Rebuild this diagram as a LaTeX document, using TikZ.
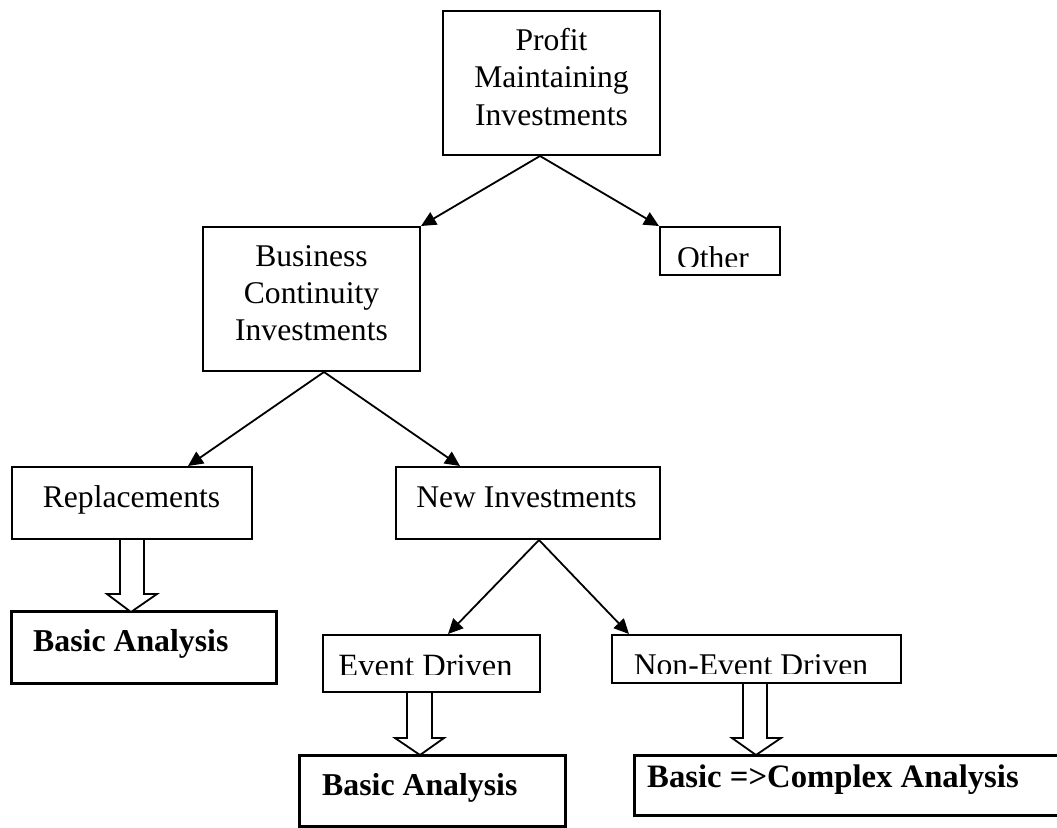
\documentclass[tikz,border=0pt]{standalone}
\usepackage{fontspec}
\setmainfont{Liberation Serif}
\usetikzlibrary{arrows.meta,calc}
\begin{document}
\begin{tikzpicture}[x=1pt,y=-1pt,
  box/.style={draw,line width=2pt,rectangle,inner sep=0pt},
  bbox/.style={draw,line width=3pt,rectangle,inner sep=0pt},
  txt/.style={anchor=base,inner sep=0pt,font=\fontsize{31.6}{37.5}\selectfont},
  btxt/.style={anchor=base west,inner sep=0pt,font=\fontsize{31.8}{37.5}\selectfont\bfseries},
  conn/.style={line width=1.8pt,-{Triangle[length=15pt,width=14pt]}},
  barrow/.style={draw,line width=1.8pt,fill=white,line join=miter}]
\useasboundingbox (0,0) rectangle (1057,827);

% boxes
\node[box,minimum width=217pt,minimum height=144pt] (profit) at (551.5,83) {};
\node[box,minimum width=217pt,minimum height=144pt] (bus) at (311.5,299) {};
\node[box,minimum width=120pt,minimum height=48pt] (other) at (720,251) {};
\node[box,minimum width=240pt,minimum height=72pt] (rep) at (132,503) {};
\node[box,minimum width=264pt,minimum height=72pt] (ni) at (528,503) {};
\node[bbox,minimum width=265pt,minimum height=72pt] (ba1) at (143.5,647) {};
\node[box,minimum width=217pt,minimum height=57pt] (ev) at (431.5,663.5) {};
\node[box,minimum width=289pt,minimum height=48pt] (ne) at (756.5,659) {};
\node[bbox,minimum width=266pt,minimum height=71pt] (ba2) at (432,790.5) {};
\node[bbox,minimum width=428pt,minimum height=60pt] (cx) at (848,785) {};

% texts
\node[txt] (tp1) at (551.5,50) {Profit};
\node[txt] (tp2) at (551.5,87) {Maintaining};
\node[txt] (tp3) at (551.5,125) {Investments};
\node[txt] (tb1) at (311.5,266) {Business};
\node[txt] (tb2) at (311.5,303) {Continuity};
\node[txt] (tb3) at (311.5,340) {Investments};
\begin{scope}
  \clip (661,228) rectangle (779,266);
  \node[txt] (tother) at (713,268) {Other};
\end{scope}
\node[txt] (trep) at (131.5,507) {Replacements};
\node[txt] (tni) at (526.5,507) {New Investments};
\begin{scope}
  \clip (324,636) rectangle (539,674);
  \node[txt,font=\fontsize{32.5}{38}\selectfont] (tev) at (425.5,676) {Event Driven};
\end{scope}
\begin{scope}
  \clip (613,636) rectangle (900,673);
  \node[txt] (tne) at (751,675) {Non-Event Driven};
\end{scope}
\node[btxt] (tba1) at (33,651) {Basic Analysis};
\node[btxt] (tba2) at (322,795) {Basic Analysis};
\node[btxt,font=\fontsize{32.7}{38}\selectfont\bfseries] (tcx) at (647,787) {Basic =>Complex Analysis};

% connectors
\draw[conn] ([xshift=-11.5pt]profit.south) -- (bus.north east);
\draw[conn] ([xshift=-11.5pt]profit.south) -- (other.north west);
\draw[conn] ([xshift=12.5pt]bus.south) -- ([xshift=56pt]rep.north);
\draw[conn] ([xshift=12.5pt]bus.south) -- ([xshift=-68pt]ni.north);
\draw[conn] ([xshift=11pt]ni.south) -- ([xshift=16.5pt]ev.north);
\draw[conn] ([xshift=11pt]ni.south) -- ([xshift=-127.5pt]ne.north);

% block arrows
\draw[barrow] ([xshift=-12pt]rep.south) -- ++(0,54) -- ++(-13,0) -- ++(24,18) -- ++(26,-18) -- ++(-13,0) -- ++(0,-54);
\draw[barrow] ([xshift=-24.5pt]ev.south) -- ++(0,45) -- ++(-12,0) -- ++(25,17) -- ++(24,-17) -- ++(-12,0) -- ++(0,-45);
\draw[barrow] ([xshift=-13.5pt]ne.south) -- ++(0,54) -- ++(-11,0) -- ++(24,17) -- ++(25,-17) -- ++(-14,0) -- ++(0,-54);
\end{tikzpicture}
\end{document}
